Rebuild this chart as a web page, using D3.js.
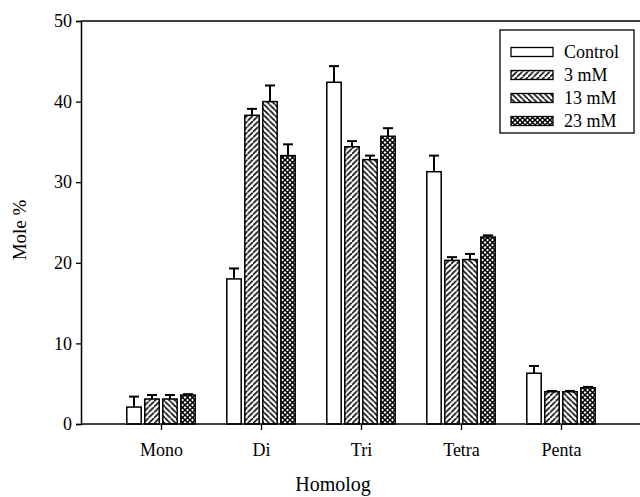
<!DOCTYPE html>
<html><head><meta charset="utf-8">
<script src="https://cdn.jsdelivr.net/npm/d3@7"></script>
<style>body{margin:0;background:#fff}svg{display:block}</style>
</head><body>
<script>
const categories = ["Mono","Di","Tri","Tetra","Penta"];
const seriesNames = ["Control","3 mM","13 mM","23 mM"];
const control = [2.1, 18.0, 42.4, 31.3, 6.3];
const mM3 = [3.1, 38.3, 34.4, 20.3, 4.0];
const mM13 = [3.1, 40.0, 32.8, 20.4, 4.0];
const mM23 = [3.6, 33.3, 35.7, 23.2, 4.5];
const errControl = [1.3, 1.3, 2.0, 2.0, 0.9];
const err3 = [0.5, 0.8, 0.7, 0.4, 0.1];
const err13 = [0.5, 2.0, 0.5, 0.7, 0.1];
const err23 = [0.1, 1.4, 1.0, 0.2, 0.1];
const yTicks = [0,10,20,30,40,50];

const values = [control, mM3, mM13, mM23];
const errs = [errControl, err3, err13, err23];
const fills = ["#fff","url(#p3)","url(#p13)","url(#p23)"];

const W = 640, H = 497;
const svg = d3.select("body").append("svg").attr("width",W).attr("height",H);
const defs = svg.append("defs");
function linePat(id, dir){
  const s = 5.5;
  const p = defs.append("pattern").attr("id",id).attr("patternUnits","userSpaceOnUse")
    .attr("width",s).attr("height",s);
  p.append("rect").attr("width",s).attr("height",s).attr("fill","#fff");
  const d = dir>0 ? `M0,${s} L${s},0 M${-s},${s} L0,0 M${s},${2*s} L${2*s},${s}`
                  : `M0,0 L${s},${s} M${-s},0 L0,${s} M${s},0 L${2*s},${s}`;
  p.append("path").attr("d",d).attr("stroke","#000").attr("stroke-width",1.5);
}
linePat("p3", 1);
linePat("p13", -1);
(function(){
  const s = 5;
  const p = defs.append("pattern").attr("id","p23").attr("patternUnits","userSpaceOnUse")
    .attr("width",s).attr("height",s);
  p.append("rect").attr("width",s).attr("height",s).attr("fill","#fff");
  p.append("path").attr("d",`M0,${s} L${s},0 M0,0 L${s},${s}`).attr("stroke","#000").attr("stroke-width",1.5);
})();

const x0 = d3.scalePoint().domain(categories).range([81,641]).padding(0.8);
const x1 = d3.scaleBand().domain(seriesNames).range([-36,36]).paddingInner(0.2).paddingOuter(0.1);
const y = d3.scaleLinear().domain([0,50]).range([424,21]);

const font = "Liberation Serif, Times New Roman, serif";

// frame top line
svg.append("line").attr("x1",81).attr("x2",640).attr("y1",y(50)).attr("y2",y(50))
  .attr("stroke","#000").attr("stroke-width",1.3);

// bars
seriesNames.forEach((s,si)=>{
  const g = svg.append("g");
  categories.forEach((c,ci)=>{
    const v = values[si][ci], e = errs[si][ci];
    const bx = x0(c) + x1(s);
    const bw = x1.bandwidth();
    const cx = bx + bw/2;
    g.append("line").attr("x1",cx).attr("x2",cx).attr("y1",y(v)).attr("y2",y(v+e))
      .attr("stroke","#000").attr("stroke-width",2);
    g.append("line").attr("x1",cx-5).attr("x2",cx+5).attr("y1",y(v+e)).attr("y2",y(v+e))
      .attr("stroke","#000").attr("stroke-width",2);
    g.append("rect").attr("x",bx).attr("y",y(v)).attr("width",bw).attr("height",y(0)-y(v))
      .attr("fill",fills[si]).attr("stroke","#000").attr("stroke-width",1.5);
  });
});

// axes
const yAxis = svg.append("g").attr("transform","translate(81,0)")
  .call(d3.axisLeft(y).tickValues(yTicks).tickSize(5).tickPadding(4));
const xAxis = svg.append("g").attr("transform",`translate(0,${y(0)})`)
  .call(d3.axisBottom(x0).tickSize(6).tickPadding(13));
xAxis.select(".domain").attr("d","M81,0H640");
[yAxis,xAxis].forEach(a=>{
  a.select(".domain").attr("stroke","#000").attr("stroke-width",1.5);
  a.selectAll(".tick line").attr("stroke","#000").attr("stroke-width",1.3);
  a.selectAll("text").attr("font-family",font).attr("font-size",18).attr("fill","#000");
});

svg.append("text").attr("x",333).attr("y",491).attr("text-anchor","middle")
  .attr("font-family",font).attr("font-size",20).text("Homolog");
svg.append("text").attr("transform","translate(26,230) rotate(-90)").attr("text-anchor","middle")
  .attr("font-family",font).attr("font-size",19).text("Mole %");

// legend
const lg = svg.append("g");
lg.append("rect").attr("x",500).attr("y",30).attr("width",134).attr("height",103)
  .attr("fill","#fff").attr("stroke","#000").attr("stroke-width",1.3);
seriesNames.forEach((s,i)=>{
  const ly = 52 + i*23;
  lg.append("rect").attr("x",511).attr("y",ly-4.5).attr("width",42).attr("height",9)
    .attr("fill",fills[i]).attr("stroke","#000").attr("stroke-width",1.3);
  lg.append("text").attr("x",564).attr("y",ly).attr("dy","0.35em")
    .attr("font-family",font).attr("font-size",18).text(s);
});
</script>
</body></html>
